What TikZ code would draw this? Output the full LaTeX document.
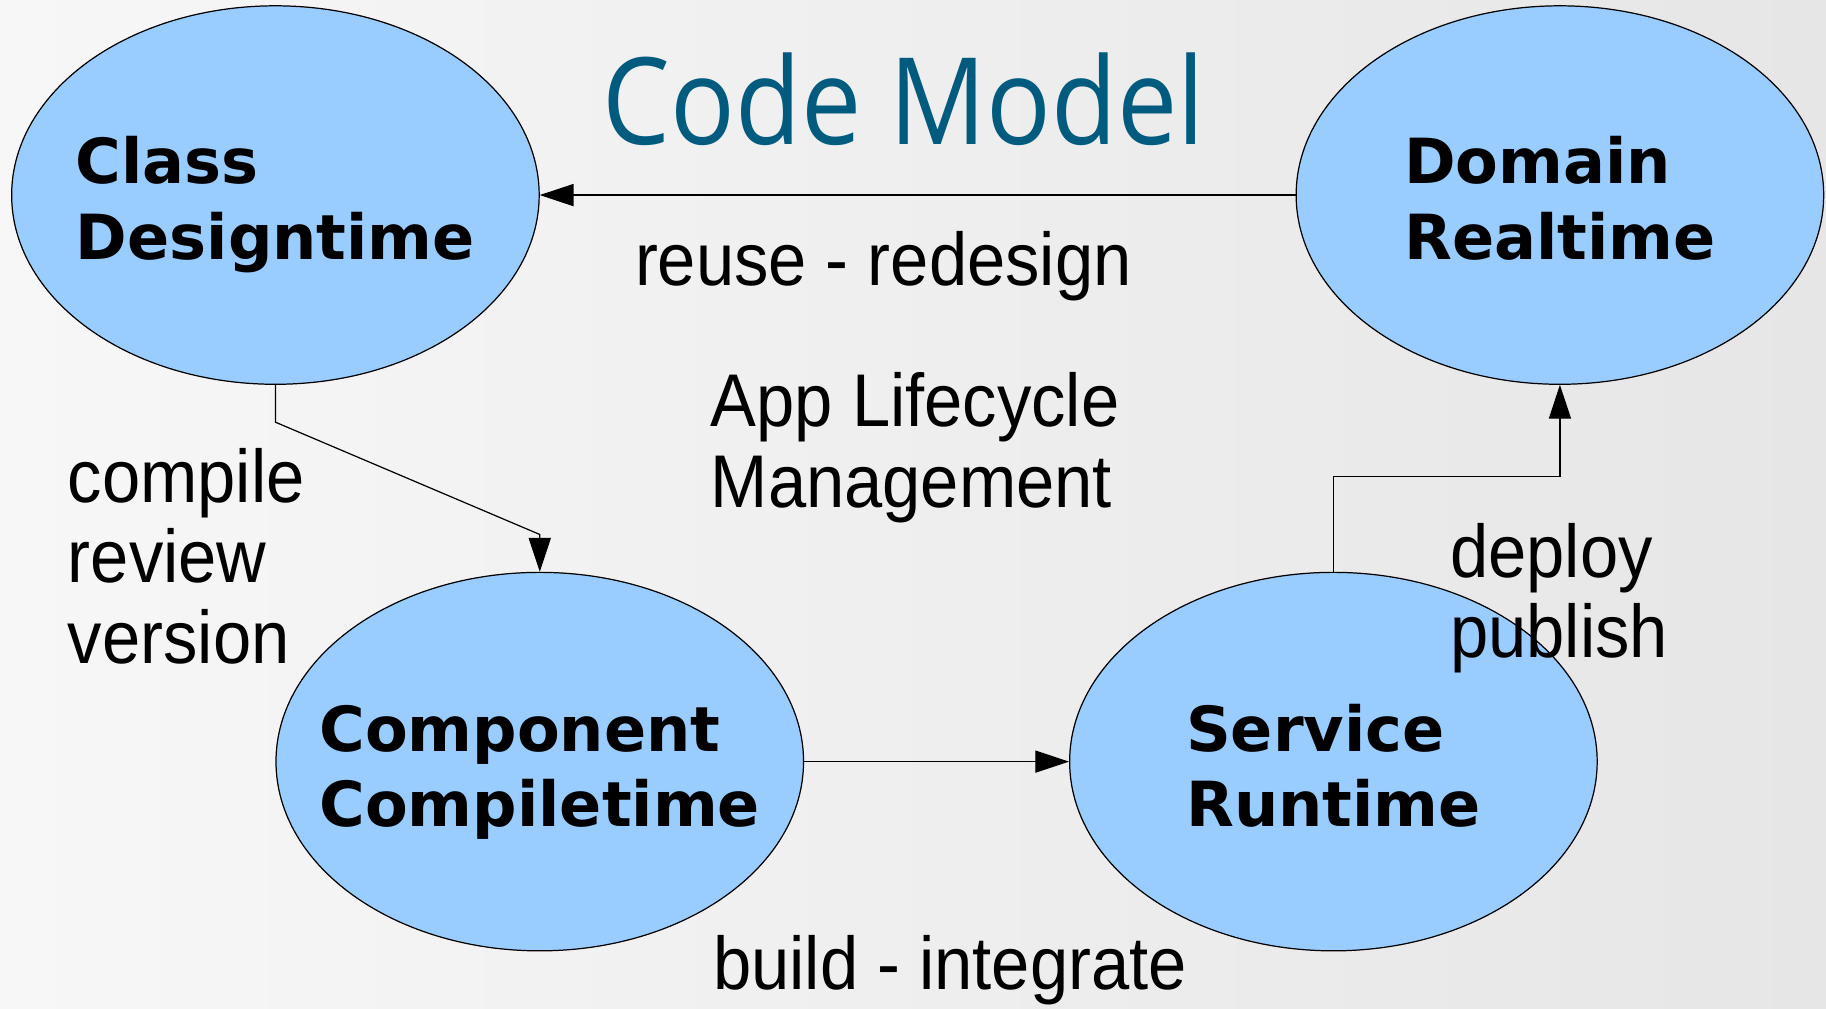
\documentclass[tikz,border=0pt]{standalone}
\usepackage{fontspec}
\setmainfont[FakeStretch=0.92]{Liberation Sans}
\newfontfamily\titlefont[FakeStretch=0.89]{Open Sans}
\newfontfamily\stagefont{DejaVu Sans}
\usetikzlibrary{shapes.geometric}
\usetikzlibrary{arrows.meta}
\usetikzlibrary{calc}
\definecolor{stagefill}{HTML}{99CCFF}
\definecolor{titleblue}{HTML}{005B7F}
\definecolor{paperlight}{HTML}{F7F7F7}
\definecolor{paperdark}{HTML}{E6E6E6}

\begin{document}
\begin{tikzpicture}[
        stage/.style={ellipse, draw=black, line width=0.6pt, fill=stagefill,
            minimum width=9.06cm, minimum height=6.5cm, inner sep=0pt},
        stagetext/.style={align=left, anchor=base, inner sep=0pt,
            font=\stagefont\bfseries\fontsize{30.4}{37}\selectfont},
        flow/.style={line width=0.6pt, -{Triangle[length=0.58cm,width=0.38cm]}},
        note/.style={align=left, anchor=base west, inner sep=0pt,
            font=\fontsize{36.5}{39.5}\selectfont}]
                \shade[left color=paperlight, right color=paperdark] (0,0) rectangle (31.36,17.32);
                \useasboundingbox (0,0) rectangle (31.36,17.32);

                \node[stage] (class) at (4.73,13.97) {};
                \node[stage] (domain) at (26.79,13.97) {};
                \node[stage] (component) at (9.27,4.24) {};
                \node[stage] (service) at (22.9,4.24) {};

                \node[stagetext] (class-text) at ([yshift=-1.1cm]class.center) {Class\\Designtime};
                \node[stagetext] (domain-text) at ([yshift=-1.1cm]domain.center) {Domain\\Realtime};
                \node[stagetext] (component-text) at ([yshift=-1.12cm]component.center) {Component\\Compiletime};
                \node[stagetext] (service-text) at ([yshift=-1.12cm]service.center) {Service\\Runtime};

                \node[anchor=base west, inner sep=0pt, text=titleblue,
                    font=\titlefont\fontsize{59}{70}\selectfont] (title) at (10.34,14.84) {Code Model};

                \draw[flow] (domain.west) -- (class.east);
                \draw[flow] (class.south) -- ++(0,-0.64) -- ($(component.north)+(0,0.64)$) -- (component.north);
                \draw[flow] (component.east) -- (service.west);
                \draw[flow] (service.north) -- ++(0,1.64) -| (domain.south);

                \node[note] (reuse) at (10.9,12.42) {reuse - redesign};
                \node[note] (alm) at (12.2,8.6) {App Lifecycle\\Management};
                \node[note] (compile) at (1.16,5.92) {compile\\review\\version};
                \node[note] (deploy) at (24.9,6.02) {deploy\\publish};
                \node[note] (build) at (12.24,0.32) {build - integrate};
            \end{tikzpicture}
\end{document}
